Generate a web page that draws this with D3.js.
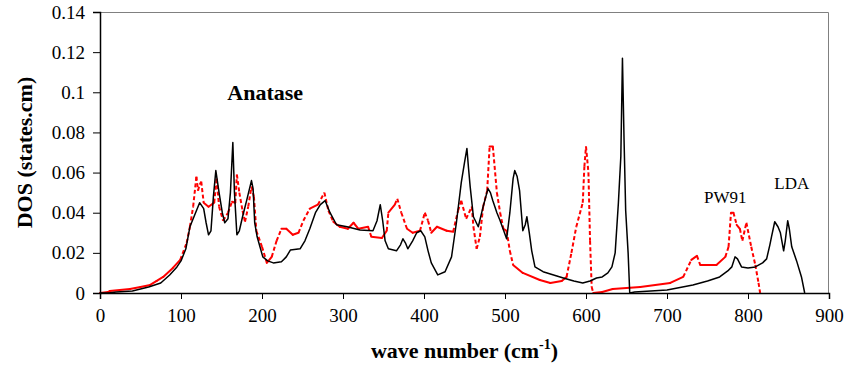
<!DOCTYPE html>
<html>
<head>
<meta charset="utf-8">
<script src="https://cdn.jsdelivr.net/npm/d3@7"></script>
<style>
  body { margin: 0; background: #fff; }
  svg { display: block; }
  text { font-family: "Liberation Serif", "Times New Roman", serif; fill: #000; }
</style>
</head>
<body>
<div id="chart"></div>
<script>
// wave number (cm-1), DOS
const ldaPoints = [
  [0,0],[10,0],[20,0.0005],[40,0.001],[60,0.003],[75,0.005],[86,0.009],[95,0.013],[100,0.016],
  [106,0.022],[111,0.033],[116,0.038],[123,0.045],[128,0.042],[131,0.035],[134,0.029],[137,0.031],
  [140,0.048],[143,0.061],[147,0.05],[151,0.04],[154,0.035],[158,0.037],[161,0.05],[164,0.075],
  [166,0.05],[169,0.029],[172,0.031],[176,0.038],[181,0.046],[187,0.056],[189,0.052],[191,0.035],
  [194,0.028],[201,0.018],[207,0.016],[214,0.015],[224,0.0156],[230,0.018],[235,0.0214],[247,0.022],
  [253,0.026],[259,0.032],[266,0.04],[272,0.044],[278,0.046],[284,0.040],[292,0.034],[305,0.033],
  [321,0.0314],[337,0.031],[342,0.036],[346,0.044],[349,0.036],[352,0.026],[356,0.022],[366,0.021],
  [371,0.024],[374,0.027],[377,0.025],[380,0.022],[386,0.026],[391,0.030],[396,0.031],[401,0.028],
  [405,0.021],[409,0.015],[417,0.009],[426,0.0106],[434,0.018],[440,0.035],[446,0.055],[450,0.065],
  [453,0.072],[455,0.062],[457,0.053],[461,0.038],[467,0.033],[473,0.043],[479,0.052],[482,0.050],
  [485,0.046],[490,0.040],[494,0.036],[502,0.027],[506,0.040],[510,0.057],[512,0.061],[515,0.058],
  [518,0.051],[522,0.031],[525,0.034],[527,0.038],[530,0.030],[533,0.021],[537,0.013],[547,0.0106],
  [560,0.009],[572,0.0075],[585,0.006],[596,0.005],[605,0.006],[613,0.0075],[620,0.008],[627,0.010],
  [632,0.013],[636,0.020],[640,0.045],[643,0.068],[645,0.117],[647,0.076],[649,0.041],[652,0.020],
  [654,0.0],[660,0.0005],[680,0.001],[700,0.0015],[732,0.004],[750,0.006],[765,0.008],[775,0.011],
  [780,0.013],[784,0.018],[787,0.017],[792,0.013],[800,0.0125],[809,0.013],[818,0.015],[823,0.017],
  [827,0.024],[829,0.028],[833,0.0355],[837,0.033],[840,0.030],[844,0.021],[846,0.026],[849,0.036],
  [851,0.032],[854,0.023],[860,0.016],[866,0.008],[870,0.0]
];

const pw91Points = [
  [0,0],[10,0.0005],[12,0.001],[37,0.002],[50,0.003],[62,0.004],[70,0.006],[78,0.008],[90,0.0125],
  [99,0.0165],[107,0.025],[111,0.033],[115,0.043],[119,0.058],[121,0.051],[123,0.054],[125,0.0555],
  [128,0.045],[134,0.043],[141,0.045],[144,0.057],[147,0.043],[152,0.036],[158,0.040],[163,0.0455],
  [167,0.045],[169,0.059],[172,0.050],[176,0.041],[179,0.0355],[183,0.043],[187,0.053],[190,0.048],
  [193,0.031],[200,0.023],[206,0.015],[212,0.018],[218,0.026],[224,0.032],[230,0.032],[238,0.029],
  [245,0.030],[251,0.036],[259,0.042],[269,0.044],[277,0.050],[282,0.041],[288,0.0355],[296,0.033],
  [306,0.032],[313,0.035],[319,0.032],[331,0.033],[335,0.028],[348,0.0274],[354,0.031],[356,0.040],
  [364,0.044],[367,0.047],[372,0.040],[379,0.032],[386,0.030],[395,0.031],[401,0.040],[405,0.036],
  [409,0.030],[416,0.033],[428,0.031],[436,0.0305],[442,0.041],[446,0.046],[452,0.037],[459,0.043],
  [461,0.033],[465,0.022],[469,0.028],[473,0.043],[478,0.051],[481,0.073],[485,0.073],[490,0.050],
  [494,0.040],[498,0.032],[502,0.031],[506,0.021],[510,0.014],[522,0.010],[543,0.0065],[556,0.005],
  [570,0.006],[576,0.008],[582,0.020],[588,0.033],[596,0.045],[598,0.063],[600,0.073],[603,0.060],
  [605,0.026],[607,0.003],[609,0.0],[620,0.0005],[633,0.002],[667,0.003],[704,0.005],[720,0.008],
  [730,0.0165],[737,0.0185],[741,0.014],[761,0.014],[772,0.018],[776,0.023],[779,0.040],[782,0.040],
  [786,0.034],[790,0.032],[793,0.026],[798,0.035],[804,0.023],[809,0.014],[813,0.005],[815,0.0]
];

const xTicks = [0, 100, 200, 300, 400, 500, 600, 700, 800, 900];
const yTicks = [0, 0.02, 0.04, 0.06, 0.08, 0.1, 0.12, 0.14];

const labels = [
  { text: "Anatase", wave: 204, dos: 0.096, bold: true, size: 22 },
  { text: "PW91", wave: 772, dos: 0.0448, bold: false, size: 17 },
  { text: "LDA", wave: 854, dos: 0.0518, bold: false, size: 17 }
];

const W = 849, H = 370;
const margin = { top: 12, right: 20, bottom: 77, left: 100 };
const width = W - margin.left - margin.right,
      height = H - margin.top - margin.bottom;
const serif = "'Liberation Serif', 'Times New Roman', serif";

const svg = d3.select("#chart").append("svg")
    .attr("width", W)
    .attr("height", H);

const g = svg.append("g")
    .attr("transform", `translate(${margin.left},${margin.top})`);

const x = d3.scaleLinear().domain([0, 900]).range([0, width]);
const y = d3.scaleLinear().domain([0, 0.14]).range([height, 0]);

// grey frame on top and right
g.append("path")
    .attr("d", `M0,0.5H${width - 0.5}V${height}`)
    .attr("fill", "none")
    .attr("stroke", "#808080")
    .attr("stroke-width", 1);

// PW91: drawn segment by segment, steep pieces come out dotted like the original
const segs = d3.pairs(pw91Points);
g.append("g").selectAll("line")
    .data(segs)
    .join("line")
    .attr("x1", d => x(d[0][0]))
    .attr("y1", d => y(d[0][1]))
    .attr("x2", d => x(d[1][0]))
    .attr("y2", d => y(d[1][1]))
    .attr("stroke", "#ff0000")
    .attr("stroke-width", 2)
    .attr("stroke-linecap", d => {
        const dx = Math.abs(x(d[1][0]) - x(d[0][0])), dy = Math.abs(y(d[1][1]) - y(d[0][1]));
        return dy > 1.5 * dx ? "butt" : "round";
    })
    .attr("stroke-dasharray", d => {
        const dx = Math.abs(x(d[1][0]) - x(d[0][0])), dy = Math.abs(y(d[1][1]) - y(d[0][1]));
        return dy > 1.5 * dx ? "4,2.5" : null;
    });

const line = d3.line()
    .x(d => x(d[0]))
    .y(d => y(d[1]));

g.append("path")
    .datum(ldaPoints)
    .attr("d", line)
    .attr("fill", "none")
    .attr("stroke", "#000")
    .attr("stroke-width", 1.5)
    .attr("stroke-linejoin", "round");

const xAxis = g.append("g")
    .attr("transform", `translate(0,${height})`)
    .call(d3.axisBottom(x).tickValues(xTicks).tickSize(6).tickPadding(10).tickFormat(d => d));

const yAxis = g.append("g")
    .call(d3.axisLeft(y).tickValues(yTicks).tickSize(7).tickPadding(8).tickFormat(d => String(d)));

[xAxis, yAxis].forEach(a => {
    a.attr("font-family", serif).attr("font-size", 19);
    a.select(".domain").attr("stroke", "#000").attr("stroke-width", 1.5);
    a.selectAll(".tick line").attr("stroke", "#000");
    a.selectAll(".tick text")
        .attr("fill", "#000")
        .attr("font-family", serif)
        .attr("font-size", 19);
});

labels.forEach(l => {
    g.append("text")
        .attr("x", x(l.wave))
        .attr("y", y(l.dos))
        .attr("font-family", serif)
        .attr("font-size", l.size)
        .attr("font-weight", l.bold ? "bold" : "normal")
        .attr("text-anchor", "middle")
        .text(l.text);
});

// axis titles
svg.append("text")
    .attr("transform", `translate(32,${margin.top + height / 2}) rotate(-90)`)
    .attr("text-anchor", "middle")
    .attr("font-family", serif)
    .attr("font-size", 22)
    .attr("font-weight", "bold")
    .text("DOS (states.cm)");

const xt = svg.append("text")
    .attr("x", margin.left + width / 2)
    .attr("y", 358)
    .attr("text-anchor", "middle")
    .attr("font-family", serif)
    .attr("font-size", 22)
    .attr("font-weight", "bold");
xt.append("tspan").text("wave number (cm");
xt.append("tspan").attr("dy", -9).attr("font-size", 14).text("-1");
xt.append("tspan").attr("dy", 9).text(")");
</script>
</body>
</html>
